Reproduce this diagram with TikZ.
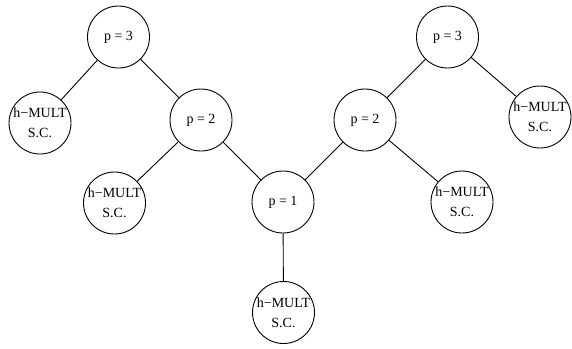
\documentclass[tikz,border=0pt]{standalone}
\usepackage{fontspec}
\setmainfont{Liberation Serif}
\begin{document}
\begin{tikzpicture}[x=1pt,y=-1pt,
  circ/.style={draw, circle, line width=0.9pt, minimum size=62pt, inner sep=0pt, font=\fontsize{14}{20}\selectfont, align=center},
  edge/.style={line width=0.9pt}]
\useasboundingbox (0,0) rectangle (572,348);
\node[circ] (p3l) at (118.5,37) {p = 3};
\node[circ] (hl) at (40,123) {h−MULT\\S.C.};
\node[circ] (p2l) at (201,120) {p = 2};
\node[circ] (h2) at (114.5,203) {h−MULT\\S.C.};
\node[circ] (p1) at (283,202) {p = 1};
\node[circ] (hb) at (283.5,312.5) {h−MULT\\S.C.};
\node[circ] (p2r) at (365,120) {p = 2};
\node[circ] (hrm) at (462,202) {h−MULT\\S.C.};
\node[circ] (p3r) at (447.5,37) {p = 3};
\node[circ] (hr) at (540,117) {h−MULT\\S.C.};
\draw[edge] (p3l) -- (hl);
\draw[edge] (p3l) -- (p2l);
\draw[edge] (p2l) -- (h2);
\draw[edge] (p2l) -- (p1);
\draw[edge] (p1) -- (hb);
\draw[edge] (p1) -- (p2r);
\draw[edge] (p2r) -- (hrm);
\draw[edge] (p2r) -- (p3r);
\draw[edge] (p3r) -- (hr);
\end{tikzpicture}
\end{document}
